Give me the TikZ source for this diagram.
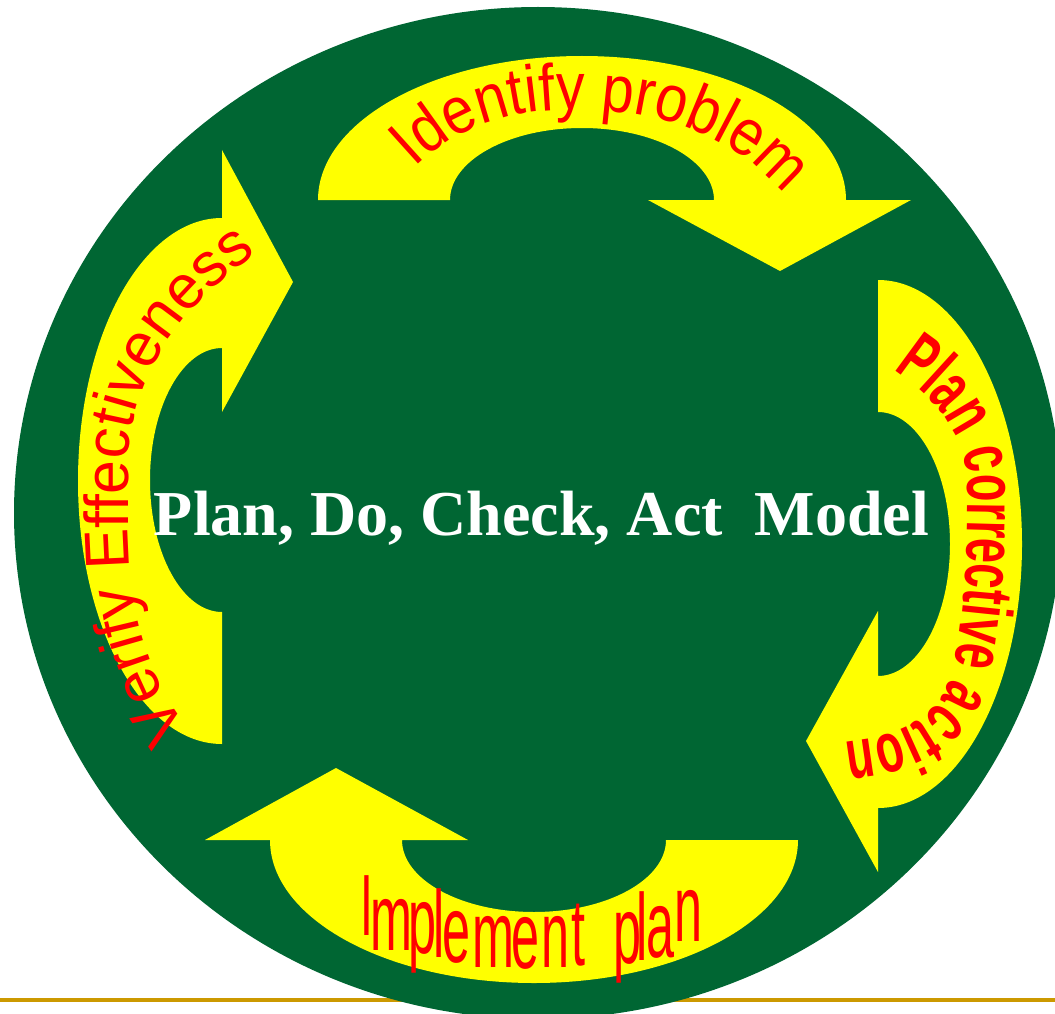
\documentclass[tikz,border=0pt]{standalone}
\usepackage{fontspec}
\setmainfont{Liberation Serif}
\newfontfamily\idfont[FakeStretch=0.87]{Liberation Sans}
\newfontfamily\vefont[FakeStretch=0.98]{Liberation Sans}
\newfontfamily\plfont[FakeStretch=0.636]{Liberation Sans Bold}
\newfontfamily\imfont[FakeStretch=0.53]{Liberation Sans}
\usetikzlibrary{decorations.text}
\definecolor{pdcagreen}{RGB}{0,102,51}
\definecolor{pdcayellow}{RGB}{255,255,0}
\definecolor{pdcared}{RGB}{255,0,0}
\definecolor{pdcagold}{RGB}{204,153,0}
\begin{document}
\begin{tikzpicture}[x=1pt,y=1pt,
  arrowband/.style={fill=pdcayellow},
  arctext/.style={decorate, decoration={text along path, text align=left}},
  letter/.style={anchor=base, inner sep=0, outer sep=0, text=pdcared}]
\useasboundingbox (0,0) rectangle (1055,-1014);
\clip (0,0) rectangle (1055,-1014);
\draw[pdcagold, line width=4] (0,-1000) -- (1055,-1000);
\fill[pdcagreen] (538,-513) ellipse [x radius=524, y radius=506];
% top arrow
\fill[arrowband] (318,-200) arc[start angle=180, end angle=0, x radius=264, y radius=144]
  -- (911,-200) -- (780,-271) -- (648,-200) -- (714,-200)
  arc[start angle=0, end angle=180, x radius=132, y radius=72] -- cycle;
% right arrow
\fill[arrowband] (878,-280) arc[start angle=90, end angle=-90, x radius=144, y radius=264]
  -- (878,-872) -- (806,-741) -- (878,-611) -- (878,-676)
  arc[start angle=-90, end angle=90, x radius=72, y radius=132] -- cycle;
% bottom arrow
\fill[arrowband] (798,-840) arc[start angle=0, end angle=-180, x radius=264, y radius=143]
  -- (205,-840) -- (336,-768) -- (468,-840) -- (402,-840)
  arc[start angle=180, end angle=360, x radius=132, y radius=72] -- cycle;
% left arrow
\fill[arrowband] (222,-744) arc[start angle=270, end angle=90, x radius=144, y radius=263]
  -- (222,-150) -- (293,-282) -- (222,-412) -- (222,-348)
  arc[start angle=90, end angle=270, x radius=72, y radius=132] -- cycle;
% curved texts
\path[arctext, decoration={text={|\idfont\fontsize{66}{66}\selectfont\color{pdcared}|Identify problem}}]
  (415,-168) .. controls (470,-115) and (530,-108) .. (590,-110)
  .. controls (680,-112) and (760,-150) .. (800,-218);
\path[arctext, decoration={text={|\plfont\fontsize{71}{71}\selectfont\color{pdcared}|Plan corrective action}}]
  (893,-370) .. controls (940,-400) and (968,-440) .. (968,-490)
  .. controls (968,-560) and (963,-620) .. (955,-660)
  .. controls (945,-712) and (912,-742) .. (812,-744);
\path[arctext, decoration={text={|\vefont\fontsize{62}{62}\selectfont\color{pdcared}|Verify Effectiveness}}]
  (188,-728) .. controls (152,-685) and (128,-615) .. (128,-525) -- (128,-470)
  .. controls (128,-380) and (180,-300) .. (275,-242);
% bottom text, letter by letter
\foreach \ch/\px/\py/\sz [count=\k] in {I/367/935/87, m/391/950/95, p/422/953/95, l/439/957/95,
   e/456/962/95, m/493/967/95, e/525/968/95, n/555/967/95, t/578/965/95,
   p/627/963/95, l/642/960/95, a/660/957/95, n/688/941/95}
  \node[letter] (imp\k) at (\px,-\py) {\imfont\fontsize{\sz}{\sz}\selectfont\ch};
% title
\node[anchor=base, inner sep=0, text=white, font=\bfseries\fontsize{64}{64}\selectfont] (title)
  at (541.5,-535) {Plan, Do, Check, Act~~Model};
\end{tikzpicture}
\end{document}
